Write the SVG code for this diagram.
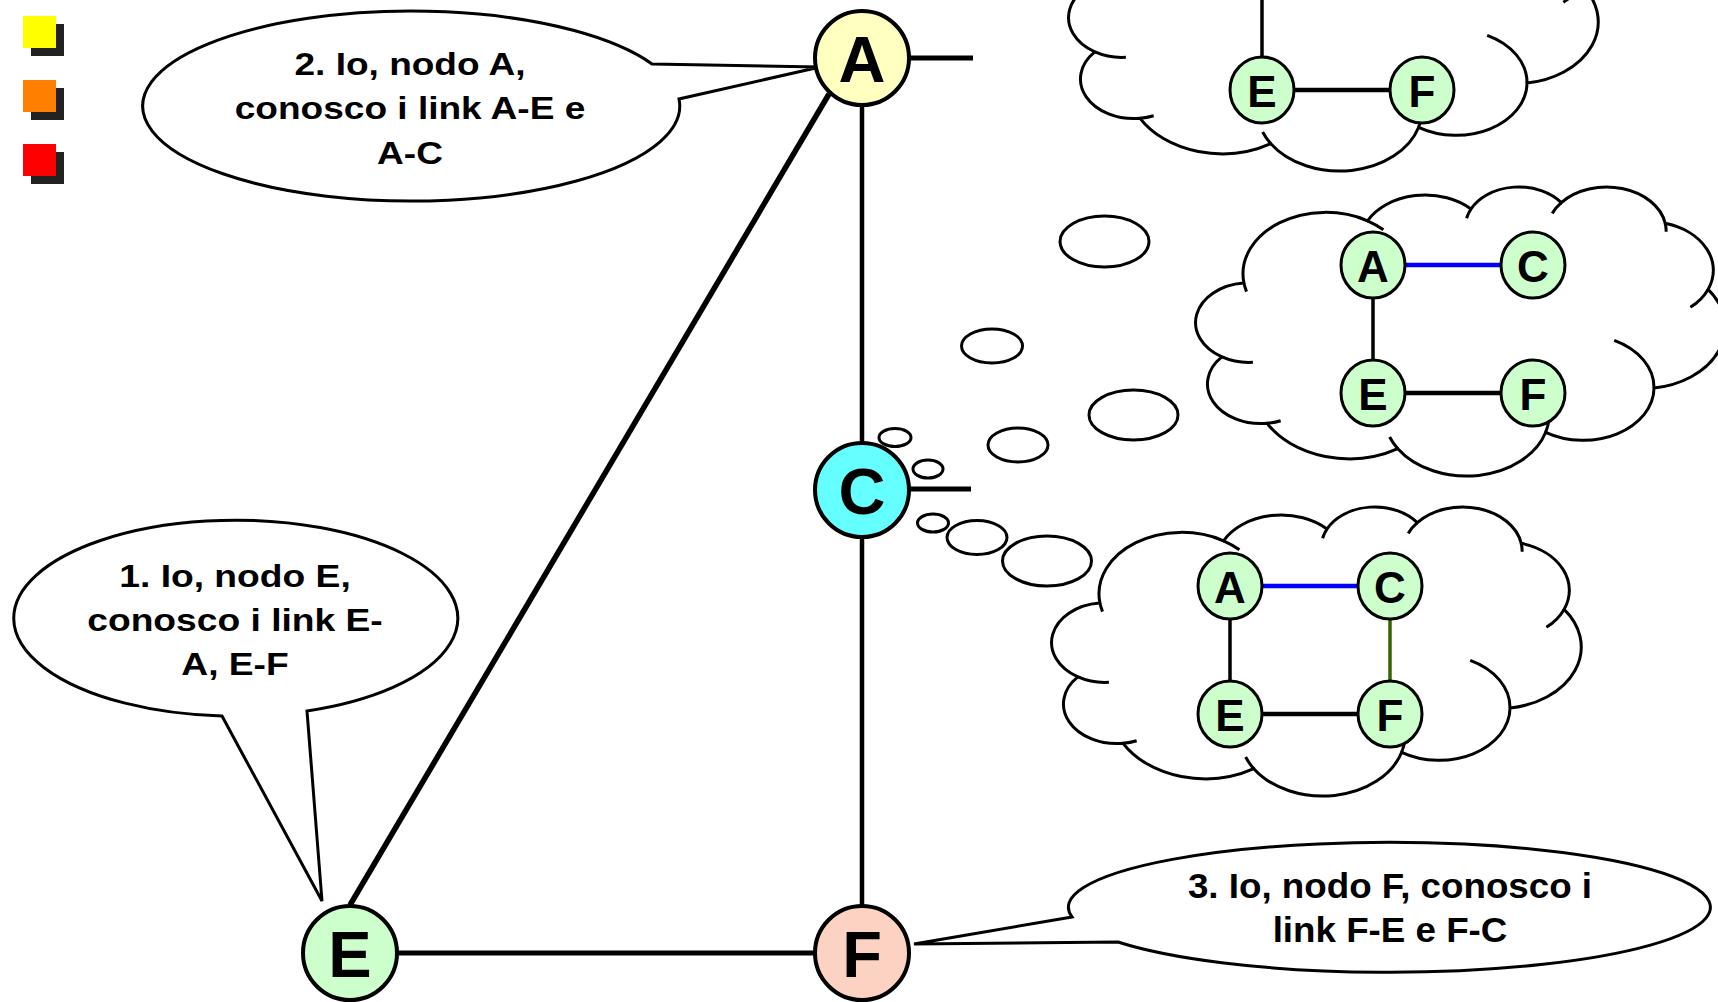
<svg xmlns="http://www.w3.org/2000/svg" width="1718" height="1002" viewBox="0 0 1718 1002">
<style>
text{font-family:"Liberation Sans",Arial,sans-serif;font-weight:bold;fill:#000;text-anchor:middle}
.t31{font-size:31px}
.t35{font-size:35px}
.big{font-size:65px}
.small{font-size:44px}
.bubble{fill:#fff;stroke:#000;stroke-width:3;stroke-linejoin:miter}
.cloud{fill:#fff;stroke:#000;stroke-width:3}
.hook{fill:none;stroke:#000;stroke-width:3}
.think{fill:#fff;stroke:#000;stroke-width:3}
.edge{stroke:#000;fill:none}
.blue{stroke:#0000FF;fill:none}
.green{stroke:#336600;fill:none}
.mnode{stroke:#000;stroke-width:4}
.snode{fill:#CCFFCC;stroke:#000;stroke-width:3}
</style>
<rect width="1718" height="1002" fill="#fff"/>

<g id="legend">
<rect x="31" y="24" width="33" height="32" fill="#222"/>
<rect x="23" y="16" width="33" height="32" fill="#FFFF00"/>
<rect x="31" y="88" width="33" height="32" fill="#222"/>
<rect x="23" y="80" width="33" height="32" fill="#FF8000"/>
<rect x="31" y="152" width="33" height="32" fill="#222"/>
<rect x="23" y="144" width="33" height="32" fill="#FF0000"/>
</g>

<g id="callout-A">
<path class="bubble" d="M 652 64 L 820 67 L 679 99 A 268.5 95 0 1 1 652 64 Z"/>
<text class="t31" transform="translate(410 0) scale(1.195 1)" x="0" y="75">2. Io, nodo A,</text>
<text class="t31" transform="translate(410 0) scale(1.195 1)" x="0" y="119.5">conosco i link A-E e</text>
<text class="t31" transform="translate(410 0) scale(1.195 1)" x="0" y="164">A-C</text>
</g>

<g id="callout-E">
<path class="bubble" d="M 222 716 L 322 901 L 307 711 A 222 98 0 1 0 222 716 Z"/>
<text class="t31" transform="translate(235 0) scale(1.2 1)" x="0" y="587">1. Io, nodo E,</text>
<text class="t31" transform="translate(235 0) scale(1.2 1)" x="0" y="631">conosco i link E-</text>
<text class="t31" transform="translate(235 0) scale(1.2 1)" x="0" y="675">A, E-F</text>
</g>

<g id="callout-F">
<path class="bubble" d="M 1072 917 L 914 944 L 1118 942 A 321 65 0 1 0 1072 917 Z"/>
<text class="t35" transform="translate(1390 0) scale(1.05 1)" x="0" y="898">3. Io, nodo F, conosco i</text>
<text class="t35" transform="translate(1390 0) scale(1.05 1)" x="0" y="942">link F-E e F-C</text>
</g>

<g id="cloud1">
<ellipse class="think" cx="895" cy="437.5" rx="16" ry="9"/>
<ellipse class="think" cx="992" cy="346" rx="30.5" ry="17"/>
<ellipse class="think" cx="1104.5" cy="241.5" rx="44.5" ry="25.5"/>
<g transform="translate(1069 -119) scale(0.012245 0.00669)">
<path class="cloud" vector-effect="non-scaling-stroke" d="M 3900 14370 A 6753 9190 0 0 1 14005 5202 A 5333 7267 0 0 1 22457 3433 A 4365 5945 0 0 1 29834 2482 A 4857 6595 0 0 1 38319 5577 A 5333 7273 0 0 1 41819 15460 A 6775 9220 0 0 1 37405 30203 A 5785 7867 0 0 1 28556 36813 A 6752 9215 0 0 1 16481 39265 A 7720 10543 0 0 1 5805 35471 A 4360 5918 0 0 1 2114 25549 A 4345 5945 0 0 1 3864 14505 Z"/>
<path class="hook" vector-effect="non-scaling-stroke" d="M 4647 26346 A 4345 5945 0 0 1 2114 25549 M 6914 35089 A 4360 5918 0 0 1 5805 35471 M 16481 39265 A 6752 9215 0 0 1 15813 37524 M 28823 34903 A 6752 9215 0 0 1 28556 36813 M 34153 23067 A 5785 7867 0 0 1 37405 30203 M 41819 15460 A 5333 7273 0 0 1 40371 18136 M 38319 5577 A 4857 6595 0 0 1 38396 6841 M 29092 4094 A 4857 6595 0 0 1 29834 2482 M 22097 4822 A 4365 5945 0 0 1 22457 3433 M 14005 5202 A 6753 9190 0 0 1 15306 6552 M 4126 15787 A 6753 9190 0 0 1 3900 14370"/>
</g>
</g>

<g id="cloud2">
<ellipse class="think" cx="928" cy="469" rx="15" ry="9"/>
<ellipse class="think" cx="1018" cy="445" rx="30" ry="17"/>
<ellipse class="think" cx="1133.5" cy="415" rx="44.5" ry="25"/>
<g transform="translate(1196 186) scale(0.012245 0.00669)">
<path class="cloud" vector-effect="non-scaling-stroke" d="M 3900 14370 A 6753 9190 0 0 1 14005 5202 A 5333 7267 0 0 1 22457 3433 A 4365 5945 0 0 1 29834 2482 A 4857 6595 0 0 1 38319 5577 A 5333 7273 0 0 1 41819 15460 A 6775 9220 0 0 1 37405 30203 A 5785 7867 0 0 1 28556 36813 A 6752 9215 0 0 1 16481 39265 A 7720 10543 0 0 1 5805 35471 A 4360 5918 0 0 1 2114 25549 A 4345 5945 0 0 1 3864 14505 Z"/>
<path class="hook" vector-effect="non-scaling-stroke" d="M 4647 26346 A 4345 5945 0 0 1 2114 25549 M 6914 35089 A 4360 5918 0 0 1 5805 35471 M 16481 39265 A 6752 9215 0 0 1 15813 37524 M 28823 34903 A 6752 9215 0 0 1 28556 36813 M 34153 23067 A 5785 7867 0 0 1 37405 30203 M 41819 15460 A 5333 7273 0 0 1 40371 18136 M 38319 5577 A 4857 6595 0 0 1 38396 6841 M 29092 4094 A 4857 6595 0 0 1 29834 2482 M 22097 4822 A 4365 5945 0 0 1 22457 3433 M 14005 5202 A 6753 9190 0 0 1 15306 6552 M 4126 15787 A 6753 9190 0 0 1 3900 14370"/>
</g>
</g>

<g id="cloud3">
<ellipse class="think" cx="933" cy="523" rx="15.5" ry="9"/>
<ellipse class="think" cx="977" cy="537.5" rx="30" ry="17"/>
<ellipse class="think" cx="1047" cy="561" rx="44.5" ry="25"/>
<g transform="translate(1052 506) scale(0.012245 0.00669)">
<path class="cloud" vector-effect="non-scaling-stroke" d="M 3900 14370 A 6753 9190 0 0 1 14005 5202 A 5333 7267 0 0 1 22457 3433 A 4365 5945 0 0 1 29834 2482 A 4857 6595 0 0 1 38319 5577 A 5333 7273 0 0 1 41819 15460 A 6775 9220 0 0 1 37405 30203 A 5785 7867 0 0 1 28556 36813 A 6752 9215 0 0 1 16481 39265 A 7720 10543 0 0 1 5805 35471 A 4360 5918 0 0 1 2114 25549 A 4345 5945 0 0 1 3864 14505 Z"/>
<path class="hook" vector-effect="non-scaling-stroke" d="M 4647 26346 A 4345 5945 0 0 1 2114 25549 M 6914 35089 A 4360 5918 0 0 1 5805 35471 M 16481 39265 A 6752 9215 0 0 1 15813 37524 M 28823 34903 A 6752 9215 0 0 1 28556 36813 M 34153 23067 A 5785 7867 0 0 1 37405 30203 M 41819 15460 A 5333 7273 0 0 1 40371 18136 M 38319 5577 A 4857 6595 0 0 1 38396 6841 M 29092 4094 A 4857 6595 0 0 1 29834 2482 M 22097 4822 A 4365 5945 0 0 1 22457 3433 M 14005 5202 A 6753 9190 0 0 1 15306 6552 M 4126 15787 A 6753 9190 0 0 1 3900 14370"/>
</g>
</g>

<g id="connectors">
<line class="edge" x1="862" y1="105" x2="862" y2="443" stroke-width="4.5"/>
<line class="edge" x1="862" y1="537" x2="862" y2="905" stroke-width="4.5"/>
<line class="edge" x1="397" y1="953" x2="815" y2="953" stroke-width="5"/>
<line class="edge" x1="350" y1="905" x2="829" y2="94" stroke-width="5.5"/>
<line class="edge" x1="908" y1="58" x2="973" y2="58" stroke-width="5"/>
<line class="edge" x1="908" y1="489" x2="971" y2="489" stroke-width="5"/>
<line class="edge" x1="1262" y1="-10" x2="1262" y2="58" stroke-width="3.5"/>
<line class="edge" x1="1294" y1="90" x2="1390" y2="90" stroke-width="4.5"/>
<line class="blue" x1="1405" y1="265" x2="1501" y2="265" stroke-width="4.5"/>
<line class="edge" x1="1373" y1="297" x2="1373" y2="361" stroke-width="3.5"/>
<line class="edge" x1="1405" y1="393" x2="1501" y2="393" stroke-width="4.5"/>
<line class="blue" x1="1262" y1="586" x2="1358" y2="586" stroke-width="4.5"/>
<line class="edge" x1="1230" y1="618" x2="1230" y2="682" stroke-width="3.5"/>
<line class="green" x1="1390" y1="618" x2="1390" y2="682" stroke-width="3.5"/>
<line class="edge" x1="1262" y1="714" x2="1358" y2="714" stroke-width="4.5"/>
</g>

<g id="node-A"><circle class="mnode" cx="862" cy="58" r="47" fill="#FFFFC0"/><text class="big" x="862" y="82">A</text></g>
<g id="node-C"><circle class="mnode" cx="862" cy="490" r="47" fill="#66FFFF"/><text class="big" x="862" y="514">C</text></g>
<g id="node-E"><circle class="mnode" cx="350" cy="953" r="47" fill="#CCFFCC"/><text class="big" x="350" y="977">E</text></g>
<g id="node-F"><circle class="mnode" cx="862" cy="953" r="47" fill="#FCD3C3"/><text class="big" x="862" y="977">F</text></g>

<g id="c1-node-E"><ellipse class="snode" cx="1262" cy="90" rx="32" ry="33"/><text class="small" x="1262" y="107">E</text></g>
<g id="c1-node-F"><ellipse class="snode" cx="1422" cy="90" rx="32" ry="33"/><text class="small" x="1422" y="107">F</text></g>

<g id="c2-node-A"><ellipse class="snode" cx="1373" cy="265" rx="32" ry="33"/><text class="small" x="1373" y="282">A</text></g>
<g id="c2-node-C"><ellipse class="snode" cx="1533" cy="265" rx="32" ry="33"/><text class="small" x="1533" y="282">C</text></g>
<g id="c2-node-E"><ellipse class="snode" cx="1373" cy="393" rx="32" ry="33"/><text class="small" x="1373" y="410">E</text></g>
<g id="c2-node-F"><ellipse class="snode" cx="1533" cy="393" rx="32" ry="33"/><text class="small" x="1533" y="410">F</text></g>

<g id="c3-node-A"><ellipse class="snode" cx="1230" cy="586" rx="32" ry="33"/><text class="small" x="1230" y="603">A</text></g>
<g id="c3-node-C"><ellipse class="snode" cx="1390" cy="586" rx="32" ry="33"/><text class="small" x="1390" y="603">C</text></g>
<g id="c3-node-E"><ellipse class="snode" cx="1230" cy="714" rx="32" ry="33"/><text class="small" x="1230" y="731">E</text></g>
<g id="c3-node-F"><ellipse class="snode" cx="1390" cy="714" rx="32" ry="33"/><text class="small" x="1390" y="731">F</text></g>
</svg>
